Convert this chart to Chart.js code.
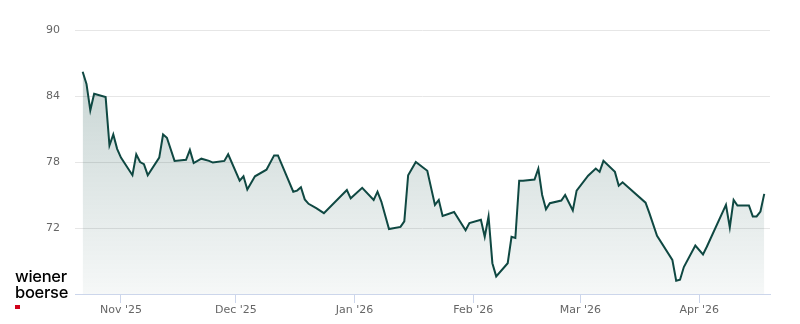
<!DOCTYPE html>
<html>
<head>
<meta charset="utf-8">
<script src="https://cdn.jsdelivr.net/npm/chart.js@4"></script>
<style>
  body { margin: 0; background: #fff; }
  #wrap { position: relative; width: 800px; height: 324px; }
  #logo { position: absolute; left: 15px; top: 268px; font-family: Inter, "Liberation Sans", Arial, sans-serif;
          font-size: 16.5px; font-weight: 500; letter-spacing: -0.3px; line-height: 16px; color: #000; }
  #logo .dot { width: 5px; height: 4px; background: #d0021b; margin-top: 5px; }
</style>
</head>
<body>
<div id="wrap">
  <canvas id="price-chart" width="800" height="324"></canvas>
  <div id="logo">wiener<br>boerse<div class="dot"></div></div>
</div>
<script>
// price history
const dates = [
    '2025-10-22', '2025-10-23', '2025-10-24', '2025-10-25', '2025-10-28', '2025-10-29', '2025-10-30', '2025-10-31',
    '2025-11-01', '2025-11-04', '2025-11-05', '2025-11-06', '2025-11-07', '2025-11-08', '2025-11-11', '2025-11-12',
    '2025-11-13', '2025-11-15', '2025-11-18', '2025-11-19', '2025-11-20', '2025-11-22', '2025-11-24', '2025-11-25',
    '2025-11-28', '2025-11-29', '2025-12-02', '2025-12-03', '2025-12-04', '2025-12-06', '2025-12-09', '2025-12-11',
    '2025-12-12', '2025-12-16', '2025-12-17', '2025-12-18', '2025-12-19', '2025-12-20', '2025-12-22', '2025-12-24',
    '2025-12-30', '2025-12-31', '2026-01-03', '2026-01-06', '2026-01-07', '2026-01-08', '2026-01-10', '2026-01-13',
    '2026-01-14', '2026-01-15', '2026-01-17', '2026-01-20', '2026-01-22', '2026-01-23', '2026-01-24', '2026-01-27',
    '2026-01-30', '2026-01-31', '2026-02-03', '2026-02-04', '2026-02-05', '2026-02-06', '2026-02-07', '2026-02-10',
    '2026-02-11', '2026-02-12', '2026-02-13', '2026-02-14', '2026-02-17', '2026-02-18', '2026-02-19', '2026-02-20',
    '2026-02-21', '2026-02-24', '2026-02-25', '2026-02-27', '2026-02-28', '2026-03-03', '2026-03-05', '2026-03-06',
    '2026-03-07', '2026-03-10', '2026-03-11', '2026-03-12', '2026-03-18', '2026-03-19', '2026-03-21', '2026-03-25',
    '2026-03-26', '2026-03-27', '2026-03-28', '2026-03-31', '2026-04-02', '2026-04-03', '2026-04-08', '2026-04-09',
    '2026-04-10', '2026-04-11', '2026-04-14', '2026-04-15', '2026-04-16', '2026-04-17', '2026-04-18'
];
const prices = [
    86.2, 85.1, 82.7, 84.2, 83.9, 79.5, 80.5, 79.2,
    78.4, 76.8, 78.7, 78.0, 77.8, 76.8, 78.4, 80.5,
    80.2, 78.1, 78.2, 79.1, 77.9, 78.3, 78.1, 77.95,
    78.1, 78.7, 76.3, 76.7, 75.5, 76.7, 77.3, 78.6,
    78.6, 75.3, 75.4, 75.7, 74.6, 74.2, 73.8, 73.35,
    75.45, 74.7, 75.65, 74.55, 75.3, 74.4, 71.9, 72.1,
    72.6, 76.8, 78.0, 77.2, 74.1, 74.55, 73.1, 73.45,
    71.8, 72.45, 72.75, 71.2, 73.05, 68.8, 67.6, 68.8,
    71.2, 71.1, 76.3, 76.3, 76.4, 77.4, 75.0, 73.7,
    74.25, 74.5, 75.0, 73.6, 75.4, 76.75, 77.4, 77.1,
    78.1, 77.1, 75.85, 76.15, 74.3, 73.35, 71.3, 69.1,
    67.2, 67.3, 68.45, 70.4, 69.6, 70.3, 74.1, 72.05,
    74.55, 74.05, 74.05, 73.05, 73.05, 73.5, 75.1
];

// x-axis month ticks
const tickDates = ['2025-11-01', '2025-12-01', '2026-01-01', '2026-02-01', '2026-03-01', '2026-04-01'];
const tickLabels = ["Nov '25", "Dec '25", "Jan '26", "Feb '26", "Mar '26", "Apr '26"];

// y-axis range
const yMin = 66;
const yMax = 90;
const yStep = 6;

const origin = Date.UTC(2025, 10, 1);
function dayNumber(s) {            // days since 1 Nov 2025
    const p = s.split('-');
    return (Date.UTC(+p[0], +p[1] - 1, +p[2]) - origin) / 86400000;
}

const points = dates.map((d, i) => ({ x: dayNumber(d), y: prices[i] }));
const tickDays = tickDates.map(dayNumber);

const ctx = document.getElementById('price-chart');
new Chart(ctx, {
    type: 'line',
    data: {
        datasets: [{
            data: points,
            borderColor: '#0f4842',
            borderWidth: 2,
            tension: 0,
            pointRadius: 0,
            fill: 'start',
            backgroundColor: (c) => {
                const area = c.chart.chartArea;
                if (!area) return 'rgba(15,72,66,0.15)';
                const g = c.chart.ctx.createLinearGradient(0, area.top + 40, 0, area.bottom);
                g.addColorStop(0, 'rgba(15,72,66,0.23)');
                g.addColorStop(1, 'rgba(15,72,66,0.04)');
                return g;
            }
        }]
    },
    options: {
        responsive: false,
        animation: false,
        layout: { padding: { top: 30, right: 30, left: 0, bottom: 0 } },
        scales: {
            x: {
                type: 'linear',
                min: -12,
                max: 169.5,
                afterBuildTicks: (scale) => {
                    scale.ticks = tickDays.map(v => ({ value: v }));
                },
                afterFit: (scale) => { scale.height = 30; },
                border: { color: '#ccd6eb', width: 1 },
                grid: { drawOnChartArea: false, drawTicks: true, tickLength: 9, tickColor: '#ccd6eb' },
                ticks: {
                    autoSkip: false,
                    maxRotation: 0,
                    padding: 1,
                    color: '#666666',
                    font: { family: 'DejaVu Sans', size: 11 },
                    callback: (v) => tickLabels[tickDays.indexOf(v)] || ''
                }
            },
            y: {
                min: yMin,
                max: yMax,
                afterFit: (scale) => { scale.width = 75; },
                border: { display: false },
                grid: { color: '#e6e6e6', drawTicks: false },
                ticks: {
                    stepSize: yStep,
                    padding: 15,
                    color: '#666666',
                    font: { family: 'DejaVu Sans', size: 11 },
                    callback: (v) => v === yMin ? '' : v
                }
            }
        },
        plugins: {
            legend: { display: false },
            tooltip: { enabled: false }
        }
    }
});
</script>
</body>
</html>
